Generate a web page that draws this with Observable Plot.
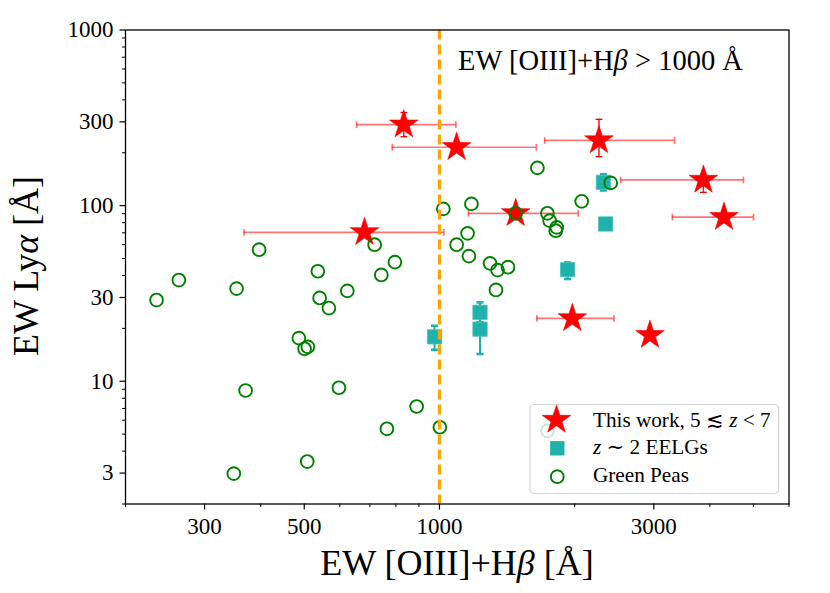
<!DOCTYPE html>
<html><head><meta charset="utf-8">
<script src="https://cdn.jsdelivr.net/npm/d3@7"></script>
<script src="https://cdn.jsdelivr.net/npm/@observablehq/plot@0.6"></script>
<style>
html,body{margin:0;padding:0;background:#fff;}
#chart{width:830px;height:593px;}
</style></head>
<body><div id="chart"></div>
<script>
// ---- This work, 5 <~ z < 7 (stars) ----
const starX   = [833, 1092, 2265, 3869, 4300, 1478, 681, 1976, 2942];
const starY   = [289, 215, 235, 140, 86, 90.4, 70.5, 22.8, 18.3];
const starXlo = [654, 785, 1715, 2532, 3300, 1160, 367, 1648, null];
const starXhi = [1088, 1643, 3339, 4751, 5000, 2038, 1023, 2446, null];
const starYlo = [247, null, 190, 119, null, null, null, null, null];
const starYhi = [339, null, 310, 145, null, null, null, null, null];

// ---- z ~ 2 EELGs (squares) ----
const eelgX   = [2317, 2344, 1929, 1231, 1231, 975];
const eelgY   = [135.7, 78.6, 43.2, 24.7, 19.8, 17.9];
const eelgYlo = [122, null, 38.2, 21.7, 14.3, 15.1];
const eelgYhi = [151, null, 47.5, 28.1, 23.0, 20.7];

// ---- Green Peas (open circles) ----
const gpX = [234.5, 262.9, 353.4, 396.7, 536.1, 541.0, 567.4, 623.5, 742.3, 795.8,
             717.2, 486.4, 509.3, 500.8, 370.2, 597.3, 889.4, 763.8, 1002, 507.7,
             348.5, 1020, 1178, 1652, 2073, 2406, 1478, 1739, 1759, 1824,
             1815, 1155, 1092, 1163, 1296, 1421, 1347, 1336, 1739];
const gpY = [29.0, 37.7, 33.7, 56.1, 42.3, 29.8, 26.1, 32.7, 40.3, 47.7,
             59.9, 17.6, 15.7, 15.3, 8.86, 9.18, 7.18, 5.36, 5.47, 3.49,
             2.98, 95.8, 102.3, 164, 105.8, 134.7, 90.4, 90.4, 82.1, 75.2,
             72.0, 69.5, 59.9, 51.6, 46.9, 44.6, 42.9, 33.1, 5.22];

// ---- ticks ----
const xMajor = [300, 500, 1000, 3000];
const xMinor = [200, 400, 600, 700, 800, 900, 2000, 4000, 5000, 6000];
const yMajor = [3, 10, 30, 100, 300, 1000];
const yMinor = [2, 4, 5, 6, 7, 8, 9, 20, 40, 50, 60, 70, 80, 90, 200, 400, 500, 600, 700, 800, 900];
const cutX = 1000;

const stars = starX.map((x, i) => ({x, y: starY[i], xlo: starXlo[i], xhi: starXhi[i], ylo: starYlo[i], yhi: starYhi[i]}));
const starsXe = stars.filter(d => d.xlo != null);
const starsYe = stars.filter(d => d.ylo != null);
const eelg = eelgX.map((x, i) => ({x, y: eelgY[i], ylo: eelgYlo[i], yhi: eelgYhi[i]}));
const eelgYe = eelg.filter(d => d.ylo != null);
const gp = gpX.map((x, i) => ({x, y: gpY[i]}));

const vCap = {draw(ctx, size) { const h = Math.sqrt(size) / 2; ctx.moveTo(0, -h); ctx.lineTo(0, h); }};
const hCap = {draw(ctx, size) { const h = Math.sqrt(size) / 2; ctx.moveTo(-h, 0); ctx.lineTo(h, 0); }};

const RED = "#ff0000", TEAL = "#20b2aa", GREEN = "#008000", ORANGE = "#ffa500";
const FONT = "'Liberation Serif', 'DejaVu Serif', serif";

const chart = Plot.plot({
  width: 830, height: 593,
  marginLeft: 125, marginRight: 41.5, marginTop: 29.5, marginBottom: 89.5,
  x: {type: "log", domain: [200, 6000]},
  y: {type: "log", domain: [2, 1000]},
  style: {fontFamily: FONT, fontSize: "23px", color: "black", background: "white"},
  marks: [
    // EELG error bars and squares
    Plot.ruleX(eelgYe, {x: "x", y1: "ylo", y2: "yhi", stroke: TEAL, strokeWidth: 2}),
    Plot.dot(eelgYe, {x: "x", y: "ylo", symbol: hCap, r: 4, stroke: TEAL, fill: "none", strokeWidth: 2.6}),
    Plot.dot(eelgYe, {x: "x", y: "yhi", symbol: hCap, r: 4, stroke: TEAL, fill: "none", strokeWidth: 2.6}),
    Plot.dot(eelg, {x: "x", y: "y", symbol: "square", r: 8.1, fill: TEAL, stroke: "#4cc4bd", strokeWidth: 0.8}),
    // Stars: x error bars (light), y error bars
    Plot.ruleY(starsXe, {y: "y", x1: "xlo", x2: "xhi", stroke: RED, strokeOpacity: 0.55, strokeWidth: 1.7}),
    Plot.dot(starsXe, {x: "xlo", y: "y", symbol: vCap, r: 3.8, stroke: RED, strokeOpacity: 0.55, fill: "none", strokeWidth: 1.7}),
    Plot.dot(starsXe, {x: "xhi", y: "y", symbol: vCap, r: 3.8, stroke: RED, strokeOpacity: 0.55, fill: "none", strokeWidth: 1.7}),
    Plot.ruleX(starsYe, {x: "x", y1: "ylo", y2: "yhi", stroke: RED, strokeWidth: 1.4}),
    Plot.dot(starsYe, {x: "x", y: "ylo", symbol: hCap, r: 3.8, stroke: RED, fill: "none", strokeWidth: 1.4}),
    Plot.dot(starsYe, {x: "x", y: "yhi", symbol: hCap, r: 3.8, stroke: RED, fill: "none", strokeWidth: 1.4}),
    Plot.dot(stars, {x: "x", y: "y", symbol: "star", r: 9, fill: RED, stroke: RED, strokeWidth: 0.6}),
    // Green Peas
    Plot.dot(gp, {x: "x", y: "y", r: 6.4, fill: "none", stroke: GREEN, strokeWidth: 1.9}),
    // threshold line
    Plot.ruleX([cutX], {stroke: ORANGE, strokeWidth: 3.3, strokeDasharray: "10,5"}),
    Plot.frame({stroke: "black", strokeWidth: 1.3}),
    Plot.axisX({ticks: xMajor, tickFormat: d => String(d), tickSize: 6, tickPadding: 8, strokeWidth: 1.2, label: null, fontSize: 23}),
    Plot.axisX({ticks: xMinor, tickFormat: () => "", tickSize: 3.5, strokeWidth: 1, label: null}),
    Plot.axisY({ticks: yMajor, tickFormat: d => String(d), tickSize: 5.5, tickPadding: 6.5, strokeWidth: 1.2, label: null, fontSize: 23}),
    Plot.axisY({ticks: yMinor, tickFormat: () => "", tickSize: 3, strokeWidth: 1, label: null})
  ]
});

document.getElementById("chart").appendChild(chart);

// ---- text labels and legend ----
const svg = d3.select(chart);
function richText(g, parts) {
  parts.forEach(([t, it]) => { const s = g.append("tspan").text(t); if (it) s.attr("font-style", "italic"); });
}
const xl = svg.append("text").attr("x", 457).attr("y", 575).attr("text-anchor", "middle")
  .attr("font-family", FONT).attr("font-size", 36).attr("fill", "black");
richText(xl, [["EW [OIII]+H"], ["β", true], [" [Å]"]]);

const yl = svg.append("text").attr("transform", "translate(38,266) rotate(-90)").attr("text-anchor", "middle")
  .attr("font-family", FONT).attr("font-size", 36).attr("fill", "black");
richText(yl, [["EW Ly"], ["α", true], [" [Å]"]]);

const ann = svg.append("text").attr("x", 458).attr("y", 69.5).attr("text-anchor", "start")
  .attr("font-family", FONT).attr("font-size", 28.5).attr("fill", "black");
richText(ann, [["EW [OIII]+H"], ["β", true], [" > 1000 Å"]]);

const lg = svg.append("g");
lg.append("rect").attr("x", 530).attr("y", 404.5).attr("width", 248.5).attr("height", 89)
  .attr("rx", 4).attr("fill", "white").attr("fill-opacity", 0.8).attr("stroke", "#d4d4d4").attr("stroke-width", 1.2);
const star = d3.symbol(d3.symbolStar, Math.PI * 81)();
const sq = d3.symbol(d3.symbolSquare, Math.PI * 8.1 * 8.1)();
lg.append("path").attr("d", star).attr("transform", "translate(556.5,420)").attr("fill", RED).attr("stroke", RED).attr("stroke-width", 0.6);
lg.append("path").attr("d", sq).attr("transform", "translate(557.3,448.3)").attr("fill", TEAL);
lg.append("circle").attr("cx", 557.3).attr("cy", 476.7).attr("r", 6.4).attr("fill", "none").attr("stroke", GREEN).attr("stroke-width", 1.9);
const lt = (y, parts) => { const t = lg.append("text").attr("x", 593).attr("y", y).attr("text-anchor", "start").attr("font-family", FONT).attr("font-size", 21.2).attr("fill", "black"); richText(t, parts); };
lt(426.7, [["This work, 5 ≲ "], ["z", true], [" < 7"]]);
lt(454, [["z", true], [" ∼ 2 EELGs"]]);
lt(482, [["Green Peas"]]);
</script>
</body></html>
